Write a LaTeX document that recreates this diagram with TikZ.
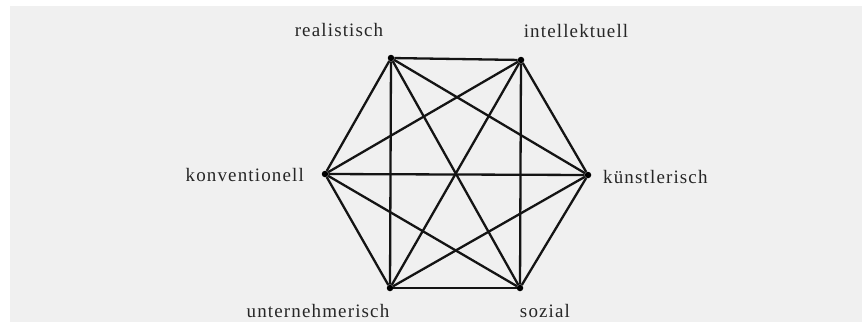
\documentclass[tikz,border=0pt]{standalone}
\usepackage{fontspec}
\setmainfont{Liberation Serif}[LetterSpace=6]
\begin{document}
\begin{tikzpicture}[x=1pt,y=-1pt,
  vtx/.style={circle,fill=black,inner sep=0pt,minimum size=6.5pt},
  lbl/.style={font=\fontsize{19}{21}\selectfont,text=black!85,inner sep=0pt},
  edge/.style={line width=2.3pt,black!92}]
\useasboundingbox (0,0) rectangle (862,327);
\fill[white] (0,0) rectangle (862,327);
\fill[black!6] (10,6) rectangle (862,322);
\node[vtx] (R) at (391,58) {};
\node[vtx] (I) at (521,60) {};
\node[vtx] (K) at (588,175) {};
\node[vtx] (S) at (520,288) {};
\node[vtx] (U) at (390,288) {};
\node[vtx] (C) at (325,174) {};
\foreach \a/\b in {R/I,R/C,R/U,R/S,R/K,I/K,I/S,I/U,I/C,C/K,C/U,C/S,K/S,K/U,U/S}
  \draw[edge] (\a) -- (\b);
\node[lbl] (lR) at (339,30) {realistisch};
\node[lbl] (lI) at (576,31) {intellektuell};
\node[lbl,anchor=east] (lC) at (304,175) {konventionell};
\node[lbl,anchor=west] (lK) at (603,177) {künstlerisch};
\node[lbl] (lU) at (318,311) {unternehmerisch};
\node[lbl] (lS) at (545,311) {sozial};
\end{tikzpicture}
\end{document}
